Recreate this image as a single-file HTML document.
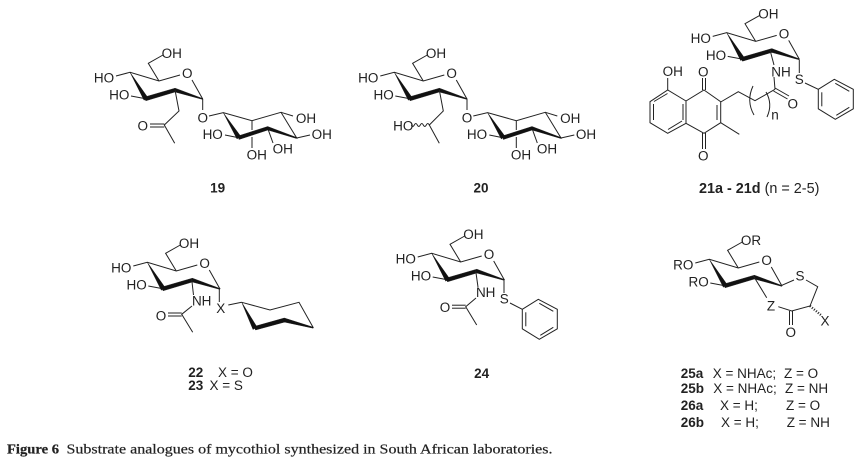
<!DOCTYPE html>
<html>
<head>
<meta charset="utf-8">
<style>
html,body{margin:0;padding:0;background:#fff;width:856px;height:467px;overflow:hidden}
svg{display:block;filter:blur(0.25px)}
text{font-family:"Liberation Sans",sans-serif;font-size:13.5px;fill:#222;text-anchor:middle}
.b{font-weight:bold}
.l{text-anchor:start}
.cap{font-family:"Liberation Serif",serif;font-size:14px;text-anchor:start;stroke:#222;stroke-width:.2}
line,polyline,polygon.r,path{stroke:#222;stroke-width:1;fill:none}
polygon.w{fill:#111;stroke:#111;stroke-width:.4;stroke-linejoin:round}
</style>
</head>
<body>
<svg width="856" height="467" viewBox="0 0 856 467" xmlns="http://www.w3.org/2000/svg">
<defs>
<g id="sugar">
<polyline points="116,76 130,72.3 159,81 180,75"/>
<line x1="192" y1="80" x2="202.7" y2="99"/>
<polyline points="159,81 148.3,63.3 163,55"/>
<line x1="131" y1="96" x2="145.7" y2="98.7"/>
<polygon class="w" points="130,72.3 147.8,97.5 144,100.2"/>
<polygon class="w" points="144,97.2 175,88.2 175.8,91.8 145.8,100.8"/>
<polygon class="w" points="175.2,88.2 202.9,98.6 202.5,99.4 175,92"/>
</g>
<g id="inos">
<polyline points="209,116 223.3,112.7 252,120.7 281,112.3 296.7,138 267.7,128.3 238.7,137.7"/>
<line x1="281" y1="112.3" x2="293" y2="116"/>
<line x1="296.7" y1="138" x2="310" y2="135"/>
<line x1="225" y1="135" x2="238.7" y2="137.7"/>
<line x1="252" y1="120.7" x2="252" y2="130"/>
<line x1="252" y1="137" x2="252" y2="148"/>
<line x1="267.7" y1="128.3" x2="273" y2="143"/>
<polygon class="w" points="223.3,112.7 240.5,136 237,139"/>
<polygon class="w" points="238,136 267.7,126.5 268,130 239,139.5"/>
<polygon class="w" points="267.7,126.5 296.9,137.6 296.5,138.5 267.7,130"/>
<line x1="202.7" y1="99" x2="202.7" y2="110"/>
<text x="202.7" y="122.4">O</text>
<text x="306" y="123">OH</text>
<text x="321.7" y="139">OH</text>
<text x="212.7" y="139">HO</text>
<text x="256.7" y="159.7">OH</text>
<text x="282.7" y="153.7">OH</text>
</g>
<g id="ph">
<polygon class="r" points="0,0 16,-10 35,0 35,19.5 17,30 0,19.5"/>
<line x1="3.5" y1="3" x2="3.5" y2="17"/>
<line x1="17" y1="-6" x2="31" y2="2"/>
<line x1="18" y1="26" x2="31" y2="18"/>
</g>
</defs>

<!-- 19 -->
<use href="#sugar"/>
<text x="104" y="82.7">HO</text><text x="119.3" y="99.7">HO</text>
<text x="187.3" y="78">O</text><text x="171.7" y="58">OH</text>
<polyline points="175,90 179,111 164.3,125 174.7,143.3"/>
<line x1="150" y1="124" x2="164.3" y2="124"/><line x1="150" y1="127" x2="164.3" y2="127"/>
<text x="142.7" y="130.4">O</text>
<use href="#inos"/>
<text class="b" x="217.7" y="192.7">19</text>

<!-- 20 -->
<g transform="translate(264.3,0)">
<use href="#sugar"/>
<text x="104" y="82.7">HO</text><text x="119.3" y="99.7">HO</text>
<text x="187.3" y="78">O</text><text x="171.7" y="58">OH</text>
<polyline points="175,90 179,111 165,125 175,143.3"/>
<path d="M165,125 q-1.5,-3 -3,0 t-3,0 t-3,0 t-3,0 t-3,0 t-3,0"/>
<text x="139" y="130.4">HO</text>
<use href="#inos"/>
</g>
<text class="b" x="481" y="192.7">20</text>

<!-- 21 -->
<g transform="translate(596.7,-39.6)">
<use href="#sugar"/>
<text x="104" y="82.7">HO</text><text x="119.3" y="99.7">HO</text>
<text x="187.3" y="78">O</text><text x="171.7" y="58">OH</text>
</g>
<line x1="770" y1="50" x2="774" y2="65"/>
<text x="781" y="76.4">NH</text>
<line x1="774" y1="77" x2="775" y2="89.3"/>
<line x1="799.3" y1="60" x2="799.3" y2="73"/>
<text x="799.3" y="84">S</text>
<line x1="805" y1="83" x2="818.3" y2="89.3"/>
<use href="#ph" transform="translate(818.3,89.3)"/>
<polyline points="720.7,102 738.3,91.7 755,100.7 775,89.3"/>
<line x1="775" y1="88" x2="789" y2="96"/><line x1="773.5" y1="91" x2="787.5" y2="99"/>
<text x="792.7" y="108.7">O</text>
<path d="M753,86 Q746,101 754,115"/>
<path d="M766,92 Q773,104 767,117"/>
<text x="775" y="119.7">n</text>
<polygon class="r" points="704,90 720.7,101.7 720.7,122.7 704,133.3 686,123.3 686,101"/>
<polyline points="686,101 667.7,90 650,101.7 650,122.7 667.7,133.3 686,123.3"/>
<line x1="717" y1="105" x2="717" y2="120"/>
<line x1="683" y1="104" x2="683" y2="120"/>
<line x1="653.5" y1="104" x2="653.5" y2="120"/>
<line x1="667.5" y1="93.5" x2="654" y2="101.5"/>
<line x1="668" y1="129.5" x2="682" y2="121"/>
<line x1="702.5" y1="78" x2="702.5" y2="90"/><line x1="705.5" y1="78" x2="705.5" y2="90"/>
<line x1="702.5" y1="133" x2="702.5" y2="149"/><line x1="705.5" y1="133" x2="705.5" y2="149"/>
<line x1="667.7" y1="90" x2="667.7" y2="78"/>
<line x1="720.7" y1="122.7" x2="739.3" y2="134.3"/>
<text x="672.7" y="76">OH</text>
<text x="703.3" y="76.4">O</text>
<text x="703.3" y="160.4">O</text>
<text x="699" y="193" class="b l" style="font-size:14.4px">21a - 21d<tspan font-weight="normal"> (n = 2-5)</tspan></text>

<!-- 22 -->
<g transform="translate(17.3,190)">
<use href="#sugar"/>
<text x="104" y="82.7">HO</text><text x="119.3" y="99.7">HO</text>
<text x="187.3" y="78">O</text><text x="171.7" y="58">OH</text>
</g>
<line x1="191.7" y1="279.3" x2="193.5" y2="295"/>
<text x="201.7" y="305.7">NH</text>
<polyline points="192,306 181.7,314.3 192.7,332.3"/>
<line x1="168" y1="313" x2="181.7" y2="313"/><line x1="168" y1="316" x2="181.7" y2="316"/>
<text x="161" y="320.4">O</text>
<line x1="219.3" y1="288.3" x2="219.3" y2="302"/>
<text x="220.7" y="313">X</text>
<line x1="228.3" y1="305" x2="241.7" y2="302.3"/>
<polyline points="241.7,302.3 270,310 299,302.3 313.3,327.7"/>
<polygon class="w" points="241.7,302.3 257,327 253,329.5"/>
<polygon class="w" points="254,326.5 284.3,318 285,322 255.5,330"/>
<polygon class="w" points="284.3,318 313.5,327.3 313.1,328.2 284,322"/>
<text class="b l" x="188.3" y="377">22</text><text class="l" x="218" y="377">X = O</text>
<text class="b l" x="188.3" y="390">23</text><text class="l" x="209.5" y="390">X = S</text>

<!-- 24 -->
<g transform="translate(301.7,181)">
<use href="#sugar"/>
<text x="104" y="82.7">HO</text><text x="119.3" y="99.7">HO</text>
<text x="187.3" y="78">O</text><text x="171.7" y="58">OH</text>
</g>
<line x1="475.7" y1="270.7" x2="478" y2="287"/>
<text x="485.7" y="297">NH</text>
<polyline points="476,298 465.7,306.7 476.7,325"/>
<line x1="452" y1="305.2" x2="465.7" y2="305.2"/><line x1="452" y1="308.2" x2="465.7" y2="308.2"/>
<text x="445" y="312">O</text>
<line x1="504" y1="280" x2="504" y2="293"/>
<text x="504.3" y="303.7">S</text>
<line x1="510" y1="303" x2="522.3" y2="309.3"/>
<use href="#ph" transform="translate(522.3,309.3)"/>
<text class="b" x="481.7" y="378">24</text>

<!-- 25 -->
<g transform="translate(579.3,187)">
<use href="#sugar"/>
<text x="104" y="82.7">RO</text><text x="119.3" y="99.7">RO</text>
<text x="187.3" y="78">O</text><text x="171.7" y="58">OR</text>
</g>
<line x1="753.3" y1="275.7" x2="766.7" y2="297.7"/>
<line x1="781" y1="285.7" x2="794" y2="280"/>
<text x="800" y="280.7">S</text>
<polyline points="806,280 817.7,286.7 810,306 791.7,311 778.3,306.7"/>
<text x="771" y="310.7">Z</text>
<line x1="789.5" y1="311" x2="789.5" y2="325"/><line x1="792.5" y1="311" x2="792.5" y2="325"/>
<text x="790.7" y="337">O</text>
<line x1="810" y1="306" x2="821.7" y2="315.7" stroke-dasharray="1 1.6" style="stroke-width:2.4"/>
<text x="825" y="325.4">X</text>

<text class="b l" x="680.7" y="378">25a</text><text class="l" x="712.7" y="378">X = NHAc;</text><text class="l" x="784" y="378">Z = O</text>
<text class="b l" x="680.7" y="393">25b</text><text class="l" x="713.3" y="393">X = NHAc;</text><text class="l" x="785" y="393">Z = NH</text>
<text class="b l" x="680.7" y="410">26a</text><text class="l" x="720" y="410">X = H;</text><text class="l" x="786" y="410">Z = O</text>
<text class="b l" x="680.7" y="427">26b</text><text class="l" x="721" y="427">X = H;</text><text class="l" x="786.7" y="427">Z = NH</text>

<text class="cap" x="7" y="453.3" textLength="52" lengthAdjust="spacingAndGlyphs" style="font-weight:bold">Figure 6</text>
<text class="cap" x="66.5" y="453.3" textLength="486" lengthAdjust="spacingAndGlyphs">Substrate analogues of mycothiol synthesized in South African laboratories.</text>
</svg>
</body>
</html>
